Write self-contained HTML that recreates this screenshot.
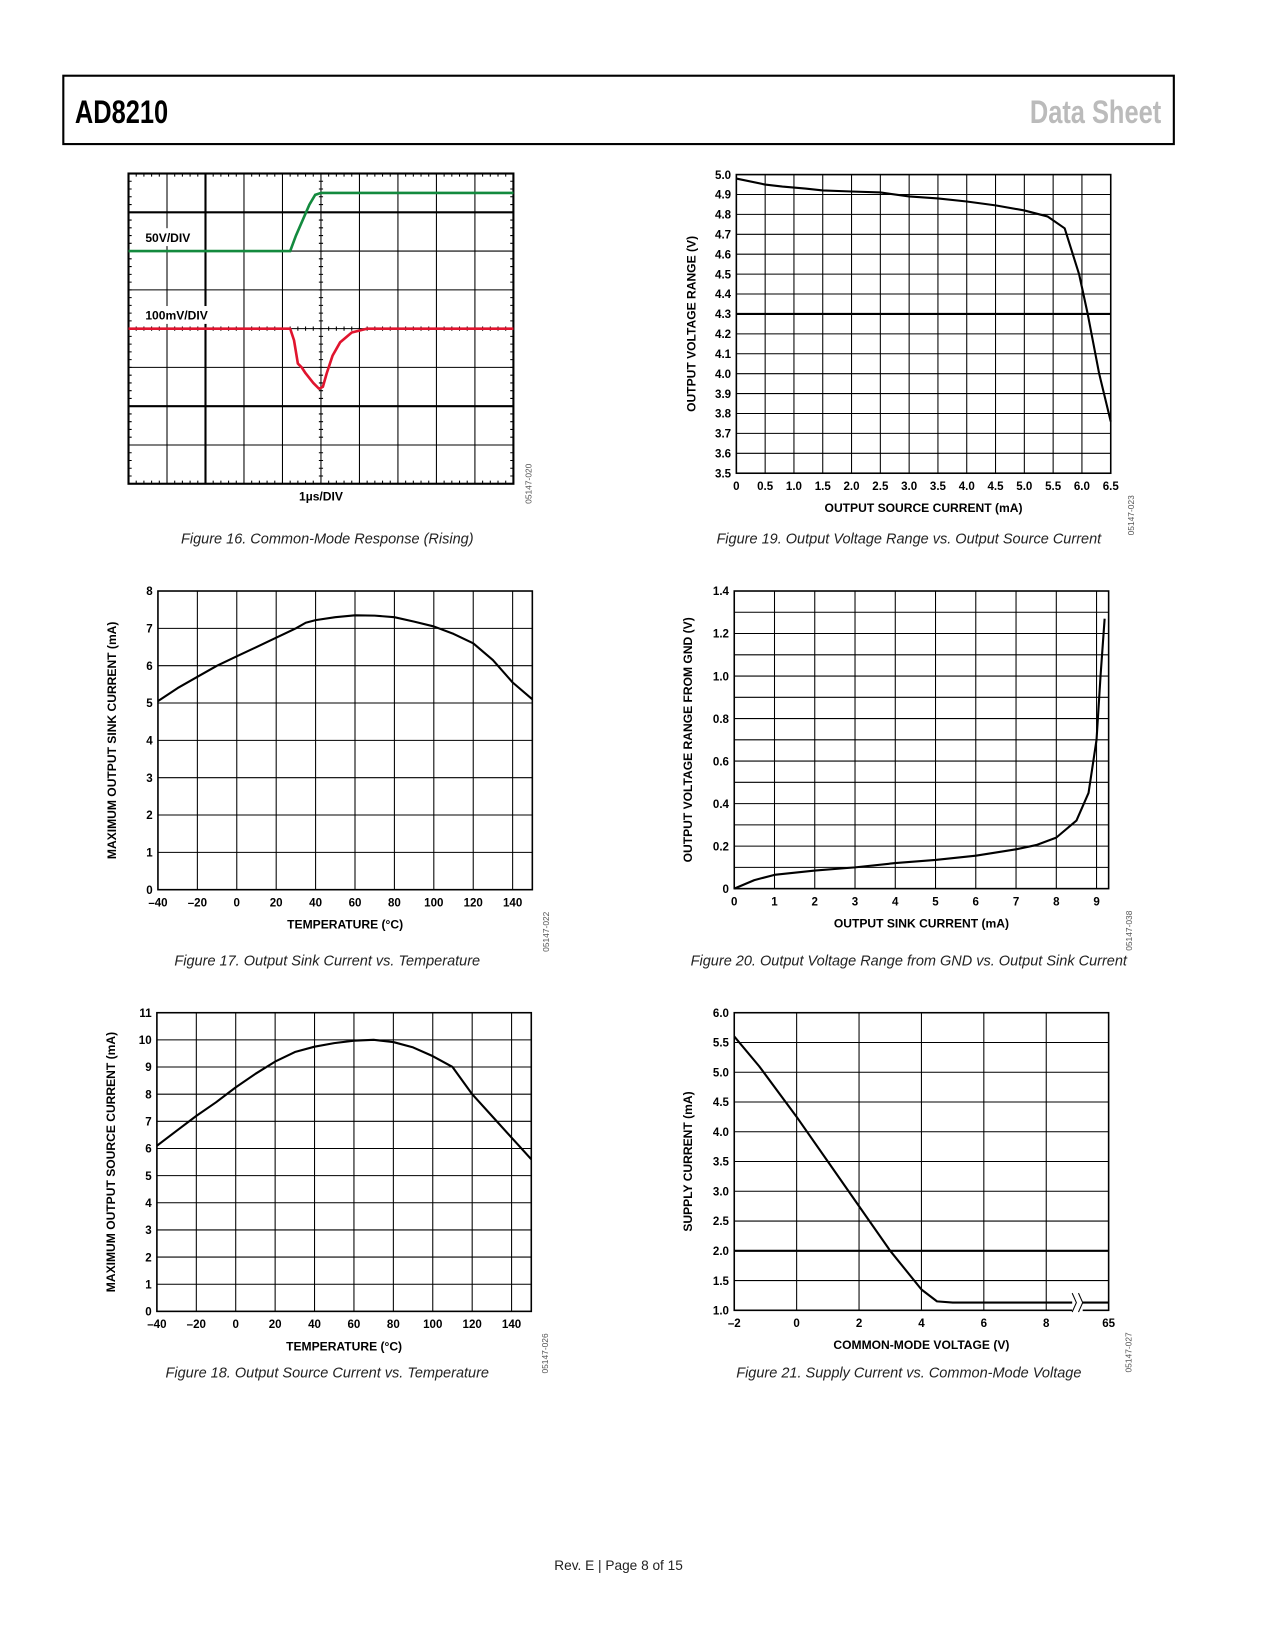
<!DOCTYPE html>
<html><head><meta charset="utf-8"><style>
html,body{margin:0;padding:0;background:#fff;}
svg{display:block;}
text{font-family:"Liberation Sans",sans-serif;}
.tk{font-size:11px;font-weight:bold;fill:#000;}
.lab{font-size:11.5px;font-weight:bold;fill:#000;}
.cap{font-size:13.8px;font-style:italic;fill:#222;}
.code{font-size:8px;fill:#555;}
</style></head><body>
<svg id="page" width="1275" height="1650" viewBox="0 0 1212 1569" xmlns="http://www.w3.org/2000/svg">
<rect x="60" y="72" width="1056" height="65" fill="none" stroke="#000" stroke-width="2"/>
<text x="71" y="117" font-size="31" font-weight="bold" fill="#000" transform="translate(71 0) scale(0.78 1) translate(-71 0)">AD8210</text>
<text x="1104" y="117" font-size="31" font-weight="bold" fill="#bbb" text-anchor="end" transform="translate(1104 0) scale(0.78 1) translate(-1104 0)">Data Sheet</text>
<g id="charts"></g>
<text x="588" y="1493" font-size="13" fill="#222" text-anchor="middle">Rev. E | Page 8 of 15</text>
</svg>
<script>
// Fig 19
const f19X=[0,0.5,0.8,1.2,1.5,2.0,2.5,3.0,3.5,4.0,4.5,5.0,5.4,5.7,5.95,6.1,6.3,6.5];
const f19Y=[4.98,4.95,4.94,4.93,4.92,4.915,4.91,4.89,4.88,4.865,4.845,4.82,4.79,4.73,4.5,4.3,4.0,3.76];
const f19XT=["0","0.5","1.0","1.5","2.0","2.5","3.0","3.5","4.0","4.5","5.0","5.5","6.0","6.5"];
const f19YT=["3.5","3.6","3.7","3.8","3.9","4.0","4.1","4.2","4.3","4.4","4.5","4.6","4.7","4.8","4.9","5.0"];
// Fig 17
const f17X=[-40,-30,-20,-10,0,10,20,30,35,40,50,60,70,80,90,100,110,120,130,140,150];
const f17Y=[5.05,5.4,5.7,6.0,6.25,6.5,6.75,7.0,7.15,7.22,7.3,7.35,7.34,7.3,7.18,7.05,6.85,6.6,6.15,5.55,5.1];
const f17XT=["–40","–20","0","20","40","60","80","100","120","140"];
const f17YT=["0","1","2","3","4","5","6","7","8"];
// Fig 20
const f20X=[0,0.5,1,2,3,4,5,6,7,7.5,8,8.5,8.8,9.0,9.1,9.2];
const f20Y=[0.0,0.04,0.065,0.085,0.1,0.12,0.135,0.155,0.185,0.205,0.24,0.32,0.45,0.7,1.0,1.27];
const f20XT=["0","1","2","3","4","5","6","7","8","9"];
const f20YT=["0","0.2","0.4","0.6","0.8","1.0","1.2","1.4"];
// Fig 18
const f18X=[-40,-30,-20,-10,0,10,20,30,40,50,60,70,80,90,100,110,120,130,140,150];
const f18Y=[6.1,6.65,7.2,7.7,8.25,8.75,9.2,9.55,9.75,9.88,9.97,10.0,9.92,9.72,9.4,9.0,8.0,7.2,6.4,5.6];
const f18XT=["–40","–20","0","20","40","60","80","100","120","140"];
const f18YT=["0","1","2","3","4","5","6","7","8","9","10","11"];
// Fig 21 (x index: 65 V plotted at axis position 10)
const f21X=[-2,-1.2,0,1,2,3,4,4.5,5,9,10];
const f21Y=[5.6,5.1,4.25,3.5,2.75,2.0,1.35,1.15,1.13,1.13,1.13];
const f21XT=["–2","0","2","4","6","8","65"];
const f21YT=["1.0","1.5","2.0","2.5","3.0","3.5","4.0","4.5","5.0","5.5","6.0"];
// Fig 16 scope traces (divisions)
const scopeGreenX=[0,4.2,4.35,4.7,4.85,5,10];
const scopeGreenY=[2,2,1.6,0.8,0.55,0.5,0.5];
const scopeRedX=[0,4.2,4.3,4.4,4.5,4.6,4.8,4.95,5.05,5.15,5.3,5.5,5.8,6.2,10];
const scopeRedY=[4,4,4.3,4.9,5.0,5.15,5.4,5.55,5.5,5.15,4.7,4.35,4.1,4.0,4];

const NS="http://www.w3.org/2000/svg";
const root=document.getElementById('charts');
function el(tag,attrs,parent){const e=document.createElementNS(NS,tag);for(const k in attrs)e.setAttribute(k,attrs[k]);(parent||root).appendChild(e);return e;}
function txt(x,y,s,cls,parent,extra){const t=el('text',Object.assign({x:x,y:y,class:cls},extra||{}),parent);t.textContent=s;return t;}

function chart(o){
  const g=el('g',{});
  
  
  const sx=v=>o.x0+(v-o.xmin)/(o.xmax-o.xmin)*(o.x1-o.x0);
  const sy=v=>o.y1-(v-o.ymin)/(o.ymax-o.ymin)*(o.y1-o.y0);
  for(let v of o.xgrid){const l=el('line',{x1:sx(v),x2:sx(v),y1:o.y0,y2:o.y1,stroke:'#000','stroke-width':1},g);}
  for(let v of o.ygrid){const l=el('line',{x1:o.x0,x2:o.x1,y1:sy(v),y2:sy(v),stroke:'#000','stroke-width':(o.thick!==undefined&&Math.abs(v-o.thick)<1e-6)?2:1},g);}
  const fr=el('rect',{x:o.x0,y:o.y0,width:o.x1-o.x0,height:o.y1-o.y0,fill:'none',stroke:'#000','stroke-width':1.5},g);
  
  o.xt.forEach((s,i)=>{const t=txt(sx(o.xtv[i]),o.y1+16,s,'tk',g,{'text-anchor':'middle'});});
  o.yt.forEach((s,i)=>{const t=txt(o.x0-5,sy(o.ytv[i])+4,s,'tk',g,{'text-anchor':'end'});});
  const d=o.xs.map((x,i)=>(i?'L':'M')+sx(x).toFixed(1)+' '+sy(o.ys[i]).toFixed(1)).join(' ');
  const p=el('path',{d:d,fill:'none',stroke:'#000','stroke-width':2,'stroke-linejoin':'round'},g);
  
  const xl=txt((o.x0+o.x1)/2,o.y1+37,o.xlabel,'lab',g,{'text-anchor':'middle'});
  
  const yy=(o.y0+o.y1)/2;
  const yl=txt(o.ylx,yy,o.ylabel,'lab',g,{'text-anchor':'middle',transform:`rotate(-90 ${o.ylx} ${yy})`});
  
  const cd=txt(o.codex,o.y1+40,o.code,'code',g,{'text-anchor':'middle',transform:`rotate(-90 ${o.codex} ${o.y1+40})`});
  
  const cp=txt(o.capx,o.capy,o.caption,'cap',g,{'text-anchor':'middle'});
  
  return {g,sx,sy};
}
const rng=(a,b,s)=>{const r=[];for(let v=a;v<=b+1e-9;v+=s)r.push(+v.toFixed(4));return r;};

chart({name:'fig19-chart',x0:700,x1:1056,y0:166,y1:450,xmin:0,xmax:6.5,ymin:3.5,ymax:5.0,
 xgrid:rng(0,6.5,0.5),ygrid:rng(3.5,5.0,0.1),thick:4.3,xt:f19XT,xtv:rng(0,6.5,0.5),yt:f19YT,ytv:rng(3.5,5.0,0.1),
 xs:f19X,ys:f19Y,xlabel:'OUTPUT SOURCE CURRENT (mA)',ylabel:'OUTPUT VOLTAGE RANGE (V)',ylx:661,codex:1078,code:'05147-023',
 caption:'Figure 19. Output Voltage Range vs. Output Source Current',capx:864,capy:517});

chart({name:'fig17-chart',x0:150,x1:506,y0:562,y1:846,xmin:-40,xmax:150,ymin:0,ymax:8,
 xgrid:rng(-40,140,20),ygrid:rng(0,8,1),xt:f17XT,xtv:rng(-40,140,20),yt:f17YT,ytv:rng(0,8,1),
 xs:f17X,ys:f17Y,xlabel:'TEMPERATURE (°C)',ylabel:'MAXIMUM OUTPUT SINK CURRENT (mA)',ylx:110,codex:522,code:'05147-022',
 caption:'Figure 17. Output Sink Current vs. Temperature',capx:311,capy:918});

chart({name:'fig20-chart',x0:698,x1:1054,y0:562,y1:845,xmin:0,xmax:9.3,ymin:0,ymax:1.4,
 xgrid:rng(0,9,1),ygrid:rng(0,1.4,0.1),xt:f20XT,xtv:rng(0,9,1),yt:f20YT,ytv:rng(0,1.4,0.2),
 xs:f20X,ys:f20Y,xlabel:'OUTPUT SINK CURRENT (mA)',ylabel:'OUTPUT VOLTAGE RANGE FROM GND (V)',ylx:658,codex:1076,code:'05147-038',
 caption:'Figure 20. Output Voltage Range from GND vs. Output Sink Current',capx:864,capy:918});

chart({name:'fig18-chart',x0:149,x1:505,y0:963,y1:1247,xmin:-40,xmax:150,ymin:0,ymax:11,
 xgrid:rng(-40,140,20),ygrid:rng(0,11,1),xt:f18XT,xtv:rng(-40,140,20),yt:f18YT,ytv:rng(0,11,1),
 xs:f18X,ys:f18Y,xlabel:'TEMPERATURE (°C)',ylabel:'MAXIMUM OUTPUT SOURCE CURRENT (mA)',ylx:109,codex:521,code:'05147-026',
 caption:'Figure 18. Output Source Current vs. Temperature',capx:311,capy:1310});

const c21=chart({name:'fig21-chart',x0:698,x1:1054,y0:963,y1:1246,xmin:-2,xmax:10,ymin:1.0,ymax:6.0,
 xgrid:rng(-2,8,2),ygrid:rng(1,6,0.5),thick:2.0,xt:f21XT,xtv:[-2,0,2,4,6,8,10],yt:f21YT,ytv:rng(1,6,0.5),
 xs:f21X,ys:f21Y,xlabel:'COMMON-MODE VOLTAGE (V)',ylabel:'SUPPLY CURRENT (mA)',ylx:658,codex:1076,code:'05147-027',
 caption:'Figure 21. Supply Current vs. Common-Mode Voltage',capx:864,capy:1310});
{const bx=c21.sx(9.0),by=c21.sy(1.13);
 const br=el('rect',{x:bx-5,y:by-10,width:10,height:20,fill:'#fff'},c21.g);
 const b1=el('path',{d:`M${bx-5} ${by-9} L${bx-1} ${by} L${bx-5} ${by+9} M${bx+1} ${by-9} L${bx+5} ${by} L${bx+1} ${by+9}`,fill:'none',stroke:'#000','stroke-width':1},c21.g);}

// Fig 16 scope
(function(){
 const g=el('g',{});
 
 
 const x0=122,x1=488,y0=165,y1=460,dx=(x1-x0)/10,dy=(y1-y0)/8;
 const sx=v=>x0+v*dx, sy=v=>y0+v*dy;
 for(let i=1;i<10;i++){const l=el('line',{x1:sx(i),x2:sx(i),y1:y0,y2:y1,stroke:'#000','stroke-width':i==2?2:1},g);}
 for(let i=1;i<8;i++){const l=el('line',{x1:x0,x2:x1,y1:sy(i),y2:sy(i),stroke:'#000','stroke-width':(i==1||i==6)?2:1},g);}
 let tk='';
 for(let i=0;i<50;i++){const x=x0+i*dx/5;tk+=`M${x} ${y0} v3 M${x} ${y1} v-3 M${x} ${sy(4)-2} v4 `;}
 for(let i=0;i<40;i++){const y=y0+i*dy/5;tk+=`M${x0} ${y} h3 M${x1} ${y} h-3 M${sx(5)-2} ${y} h4 `;}
 const t=el('path',{d:tk,stroke:'#000','stroke-width':1},g);
 const fr=el('rect',{x:x0,y:y0,width:x1-x0,height:y1-y0,fill:'none',stroke:'#000','stroke-width':2},g);
 const gp=el('path',{d:scopeGreenX.map((v,i)=>(i?'L':'M')+sx(v)+' '+sy(scopeGreenY[i])).join(' '),fill:'none',stroke:'#138a3e','stroke-width':2.5},g);
 
 const rp=el('path',{d:scopeRedX.map((v,i)=>(i?'L':'M')+sx(v)+' '+sy(scopeRedY[i])).join(' '),fill:'none',stroke:'#e0142e','stroke-width':2.5,'stroke-linejoin':'round'},g);
 
 const r1=el('rect',{x:134,y:217,width:54,height:17,fill:'#fff'},g);
 const r2=el('rect',{x:134,y:291,width:70,height:17,fill:'#fff'},g);
 const a=txt(138,230,'50V/DIV','lab',g);
 const b=txt(138,304,'100mV/DIV','lab',g);
 const c=txt(305,476,'1µs/DIV','lab',g,{'text-anchor':'middle'});
 const d=txt(505,460,'05147-020','code',g,{'text-anchor':'middle',transform:'rotate(-90 505 460)'});
 const e=txt(311,517,'Figure 16. Common-Mode Response (Rising)','cap',g,{'text-anchor':'middle'});
})();
</script>
</body></html>
